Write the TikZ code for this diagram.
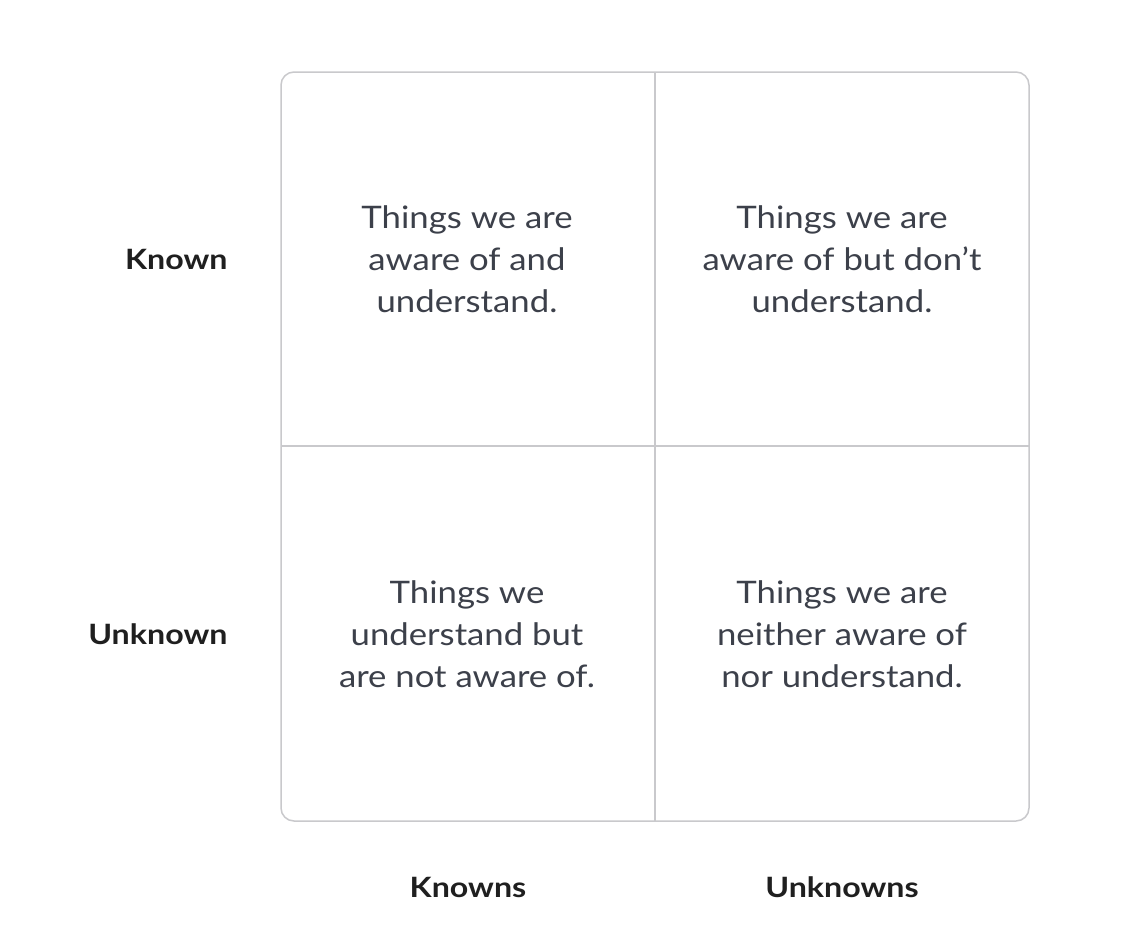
\documentclass[tikz,border=0pt]{standalone}
\usepackage{fontspec}
\setmainfont{Lato}
\newfontfamily\cellfont[FakeStretch=1.12]{Lato}
\newfontfamily\labfont[FakeStretch=1.15]{Lato Bold}
\definecolor{gridc}{HTML}{C9C9CC}
\definecolor{bodyc}{HTML}{3C404A}
\definecolor{labc}{HTML}{1F1F1F}
\begin{document}
\begin{tikzpicture}[x=1pt,y=-1pt,
  cell/.style={align=center,font=\cellfont\fontsize{31}{42}\selectfont,text=bodyc},
  lab/.style={font=\labfont\fontsize{28}{32}\selectfont,text=labc}]
\useasboundingbox (0,0) rectangle (1148,946);
\fill[white] (0,0) rectangle (1148,946);
\draw[gridc,line width=1.5pt,rounded corners=13pt] (281,72) rectangle (1029,821);
\coordinate (vt) at (655,72);
\coordinate (vb) at (655,821);
\coordinate (hl) at (281,446);
\coordinate (hr) at (1029,446);
\draw[gridc,line width=1.5pt] (vt) -- (vb);
\draw[gridc,line width=1.5pt] (hl) -- (hr);
\node[cell] (tl) at (467,259) {Things we are\\aware of and\\understand.};
\node[cell] (tr) at (842,259) {Things we are\\aware of but don’t\\understand.};
\node[cell] (bl) at (467,634) {Things we\\understand but\\are not aware of.};
\node[cell] (br) at (842,634) {Things we are\\neither aware of\\nor understand.};
\node[lab,anchor=east] (known) at (231,259) {Known};
\node[lab,anchor=east] (unknown) at (231,634) {Unknown};
\node[lab] (knowns) at (468,887) {Knowns};
\node[lab] (unknowns) at (842,887) {Unknowns};
\end{tikzpicture}
\end{document}
